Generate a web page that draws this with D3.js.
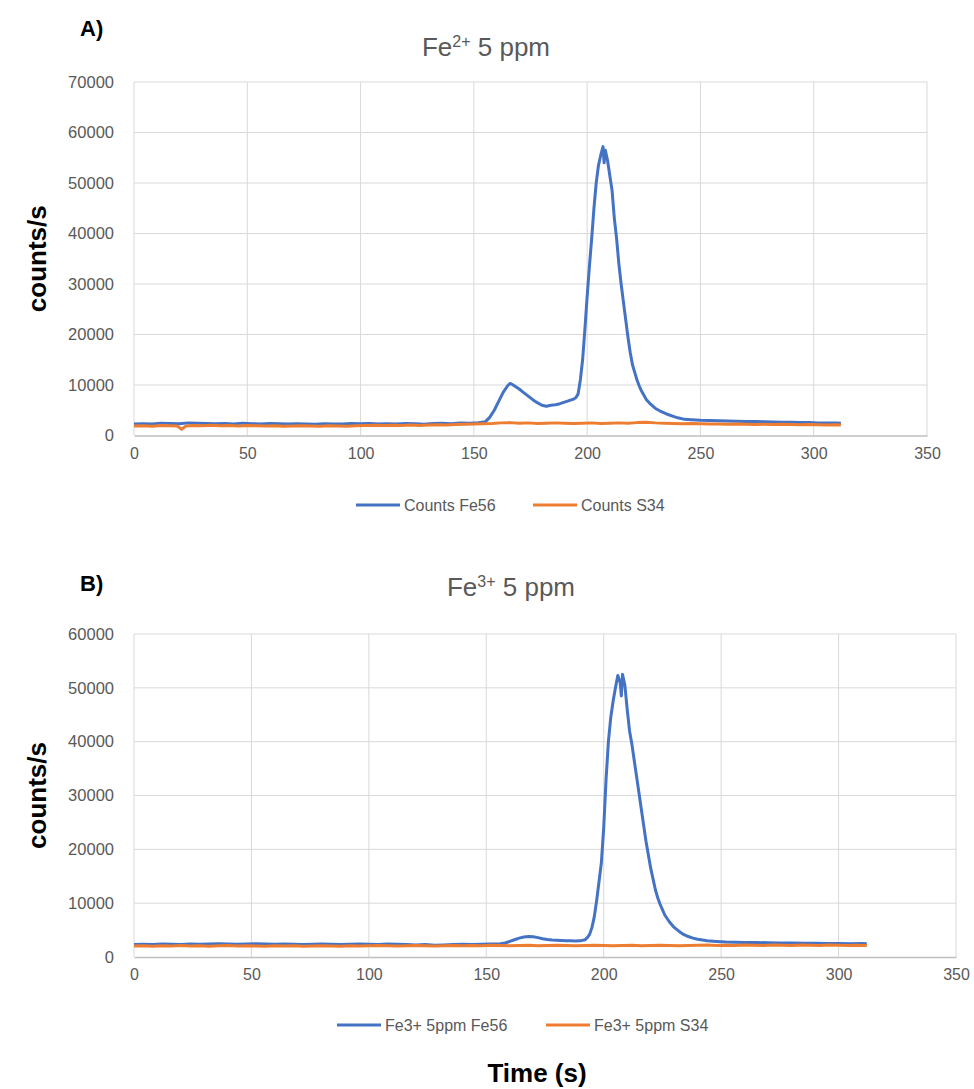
<!DOCTYPE html>
<html><head><meta charset="utf-8">
<script src="https://cdn.jsdelivr.net/npm/d3@7"></script>
<style>body{margin:0;background:#fff}svg{display:block}</style>
</head><body>
<svg id="c" width="974" height="1089"></svg>
<script>
// ---------- data ----------
const xTicks = [0, 50, 100, 150, 200, 250, 300, 350];
const yTicksA = [0, 10000, 20000, 30000, 40000, 50000, 60000, 70000];
const yTicksB = [0, 10000, 20000, 30000, 40000, 50000, 60000];
const legendA = ["Counts Fe56", "Counts S34"];
const legendB = ["Fe3+ 5ppm Fe56", "Fe3+ 5ppm S34"];
const seriesColors = ["#4472C4", "#ED7D31"];

// Panel A: Fe2+ 5 ppm  [time (s), counts/s]
const fe2_Fe56 = [[0,2300],[4,2350],[8,2300],[12,2450],[16,2400],[20,2350],[24,2500],[28,2450],[32,2400],[36,2350],[40,2400],[44,2300],[48,2450],[52,2350],[56,2300],[60,2400],[64,2350],[68,2300],[72,2350],[76,2300],[80,2250],[84,2350],[88,2300],[92,2300],[96,2400],[100,2350],[104,2400],[108,2300],[112,2350],[116,2300],[120,2400],[124,2350],[128,2250],[132,2400],[136,2450],[140,2350],[144,2500],[148,2450],[152,2550],[155,2700],[157,3600],[159,5000],[161,6800],[163,8600],[165,9900],[166,10300],[167,10100],[168,9800],[170,9200],[172,8500],[174,7800],[176,7100],[178,6500],[180,6000],[182,5800],[184,6000],[186,6100],[188,6300],[190,6600],[192,6900],[194,7200],[195,7500],[196,8200],[197,11000],[198,15000],[199,21000],[200,27500],[201,33500],[202,39000],[203,45000],[204,50000],[205,53500],[206,55500],[207,57200],[207.5,54000],[208,56500],[209,54500],[210,51500],[211,48500],[212,43000],[213,39000],[214,34000],[215,30000],[216,26500],[217,23000],[218,19500],[219,16500],[220,14000],[221,12500],[222,11000],[223,9800],[224,8800],[225,8000],[226,7200],[228,6200],[230,5400],[232,4900],[234,4500],[236,4100],[238,3800],[240,3500],[243,3200],[246,3100],[250,3000],[254,2950],[258,2900],[262,2850],[266,2800],[270,2750],[274,2750],[278,2700],[282,2650],[286,2600],[290,2600],[294,2550],[298,2550],[302,2500],[306,2500],[310,2500],[312,2450]];
const fe2_S34 = [[0,1900],[4,1950],[8,1850],[12,2000],[16,1950],[19,1900],[21,1250],[23,1900],[26,2000],[30,1950],[34,2050],[38,1950],[42,2000],[46,1900],[50,2000],[54,1950],[58,1900],[62,1950],[66,1850],[70,1900],[74,1950],[78,1900],[82,1850],[86,1950],[90,1900],[94,1850],[98,1950],[102,2000],[106,2050],[110,2000],[114,2050],[118,2000],[122,2100],[126,2000],[130,2100],[134,2150],[138,2100],[142,2200],[146,2250],[150,2300],[154,2350],[158,2400],[162,2500],[166,2550],[170,2450],[174,2500],[178,2400],[182,2450],[186,2500],[190,2450],[194,2400],[198,2450],[202,2500],[206,2400],[210,2450],[214,2500],[218,2450],[222,2550],[226,2600],[230,2500],[234,2450],[238,2400],[242,2350],[246,2400],[250,2350],[254,2300],[258,2300],[262,2250],[266,2300],[270,2250],[274,2200],[278,2250],[282,2200],[286,2250],[290,2200],[294,2150],[298,2200],[302,2150],[306,2100],[310,2150],[312,2100]];

// Panel B: Fe3+ 5 ppm
const fe3_Fe56 = [[0,2300],[4,2350],[8,2300],[12,2400],[16,2350],[20,2300],[24,2400],[28,2350],[32,2400],[36,2450],[40,2400],[44,2350],[48,2400],[52,2450],[56,2400],[60,2350],[64,2400],[68,2350],[72,2300],[76,2350],[80,2400],[84,2350],[88,2300],[92,2350],[96,2400],[100,2350],[104,2300],[108,2400],[112,2350],[116,2300],[120,2250],[124,2300],[128,2200],[132,2250],[136,2300],[140,2350],[144,2300],[148,2350],[152,2400],[156,2450],[158,2600],[160,2900],[162,3200],[164,3500],[166,3700],[168,3800],[170,3750],[172,3600],[174,3400],[176,3250],[178,3150],[180,3100],[182,3050],[184,3000],[186,3000],[188,2950],[190,3000],[192,3200],[193,3600],[194,4200],[195,5500],[196,7500],[197,10500],[198,14000],[199,17500],[200,24000],[201,33000],[202,40000],[203,44500],[204,47500],[205,50000],[206,52300],[207,51000],[207.5,48500],[208,52500],[209,50500],[210,46000],[211,42000],[212,39500],[213,36500],[214,33500],[215,30500],[216,27500],[217,24500],[218,21500],[219,19000],[220,16500],[221,14500],[222,12500],[223,11000],[224,9800],[225,8800],[226,7800],[228,6500],[230,5500],[232,4800],[234,4200],[236,3800],[238,3500],[240,3300],[244,3000],[248,2900],[252,2800],[256,2750],[260,2700],[265,2700],[270,2650],[275,2600],[280,2600],[285,2550],[290,2550],[295,2500],[300,2500],[305,2450],[310,2500],[312,2450]];
const fe3_S34 = [[0,2050],[4,2100],[8,2000],[12,2100],[16,2050],[20,2150],[24,2050],[28,2100],[32,2000],[36,2100],[40,2150],[44,2050],[48,2100],[52,2050],[56,2000],[60,2100],[64,2050],[68,2100],[72,2000],[76,2050],[80,2100],[84,2050],[88,2000],[92,2100],[96,2050],[100,2100],[104,2150],[108,2100],[112,2050],[116,2100],[120,2150],[124,2100],[128,2050],[132,2100],[136,2150],[140,2100],[144,2150],[148,2100],[152,2200],[156,2150],[160,2100],[164,2150],[168,2200],[172,2100],[176,2150],[180,2200],[184,2150],[188,2100],[192,2150],[196,2200],[200,2150],[204,2100],[208,2150],[212,2200],[216,2100],[220,2150],[224,2200],[228,2150],[232,2100],[236,2150],[240,2200],[244,2250],[248,2150],[252,2200],[256,2150],[260,2250],[264,2200],[268,2150],[272,2250],[276,2200],[280,2150],[284,2250],[288,2200],[292,2150],[296,2250],[300,2200],[304,2150],[308,2200],[312,2150]];

// ---------- drawing ----------
const svg = d3.select("#c");
const FONT = "'Liberation Sans', Arial, sans-serif";
const GRID = "#d9d9d9", AXIS = "#bfbfbf", TXT = "#595959";

function panel(cfg) {
  const g = svg.append("g");
  const x = d3.scaleLinear().domain([0, 350]).range([cfg.left, cfg.right]);
  const y = d3.scaleLinear().domain([0, d3.max(cfg.yTicks)]).range([cfg.bottom, cfg.top]);

  // gridlines
  g.append("g").selectAll("line").data(cfg.yTicks.slice(1)).join("line")
    .attr("x1", cfg.left).attr("x2", cfg.right)
    .attr("y1", d => y(d)).attr("y2", d => y(d))
    .attr("stroke", GRID).attr("stroke-width", 1);
  g.append("g").selectAll("line").data(xTicks).join("line")
    .attr("x1", d => x(d)).attr("x2", d => x(d))
    .attr("y1", cfg.top).attr("y2", cfg.bottom)
    .attr("stroke", GRID).attr("stroke-width", 1);

  // axes (tick labels via d3 axis)
  const xAxis = g.append("g").attr("transform", `translate(0,${cfg.bottom})`)
    .call(d3.axisBottom(x).tickValues(xTicks).tickSize(0).tickPadding(12).tickFormat(d3.format("d")));
  xAxis.select(".domain").attr("stroke", AXIS).attr("stroke-width", 1.3);
  xAxis.selectAll("text").attr("fill", TXT).style("font-family", FONT).style("font-size", "16px");

  const yAxis = g.append("g").attr("transform", `translate(${cfg.left},0)`)
    .call(d3.axisLeft(y).tickValues(cfg.yTicks).tickSize(0).tickPadding(20).tickFormat(d3.format("d")));
  yAxis.select(".domain").remove();
  yAxis.selectAll("text").attr("fill", TXT).style("font-family", FONT).style("font-size", "16.5px");

  // series
  const line = d3.line().x(d => x(d[0])).y(d => y(d[1]));
  cfg.series.forEach((s, i) => {
    g.append("path").datum(s).attr("d", line)
      .attr("fill", "none").attr("stroke", seriesColors[i])
      .attr("stroke-width", 3).attr("stroke-linejoin", "round");
  });

  // title
  const t = g.append("text").attr("x", cfg.titleX).attr("y", cfg.titleY)
    .attr("text-anchor", "middle").attr("fill", TXT)
    .style("font-family", FONT).style("font-size", "26px");
  t.append("tspan").text("Fe");
  t.append("tspan").attr("dy", -9).style("font-size", "16px").text(cfg.ion);
  t.append("tspan").attr("dy", 9).text(" 5 ppm");

  // panel letter
  g.append("text").attr("x", 80).attr("y", cfg.letterY).text(cfg.letter)
    .attr("fill", "#000").style("font-family", FONT).style("font-weight", "bold").style("font-size", "22px");

  // y axis title
  g.append("text").attr("transform", `translate(${cfg.yLabelX},${(cfg.top + cfg.bottom) / 2}) rotate(-90)`)
    .attr("text-anchor", "middle").text("counts/s")
    .attr("fill", "#000").style("font-family", FONT).style("font-weight", "bold").style("font-size", "26px");

  // legend
  cfg.legend.forEach((name, i) => {
    const lx = cfg.legendX[i];
    g.append("line").attr("x1", lx).attr("x2", lx + 44)
      .attr("y1", cfg.legendY).attr("y2", cfg.legendY)
      .attr("stroke", seriesColors[i]).attr("stroke-width", 3);
    g.append("text").attr("x", lx + 48).attr("y", cfg.legendY + 6).text(name)
      .attr("fill", TXT).style("font-family", FONT).style("font-size", "16px");
  });
}

panel({
  left: 134, right: 927, top: 82, bottom: 435.5, yTicks: yTicksA,
  series: [fe2_Fe56, fe2_S34], ion: "2+", letter: "A)",
  titleX: 486, titleY: 56, letterY: 36, yLabelX: 46,
  legend: legendA, legendX: [356, 533], legendY: 505
});
panel({
  left: 134, right: 956, top: 634, bottom: 957, yTicks: yTicksB,
  series: [fe3_Fe56, fe3_S34], ion: "3+", letter: "B)",
  titleX: 511, titleY: 596, letterY: 591, yLabelX: 46,
  legend: legendB, legendX: [337, 546], legendY: 1025
});

svg.append("text").attr("x", 537).attr("y", 1082).attr("text-anchor", "middle")
  .text("Time (s)").attr("fill", "#000")
  .style("font-family", FONT).style("font-weight", "bold").style("font-size", "26px");
</script>
</body></html>
